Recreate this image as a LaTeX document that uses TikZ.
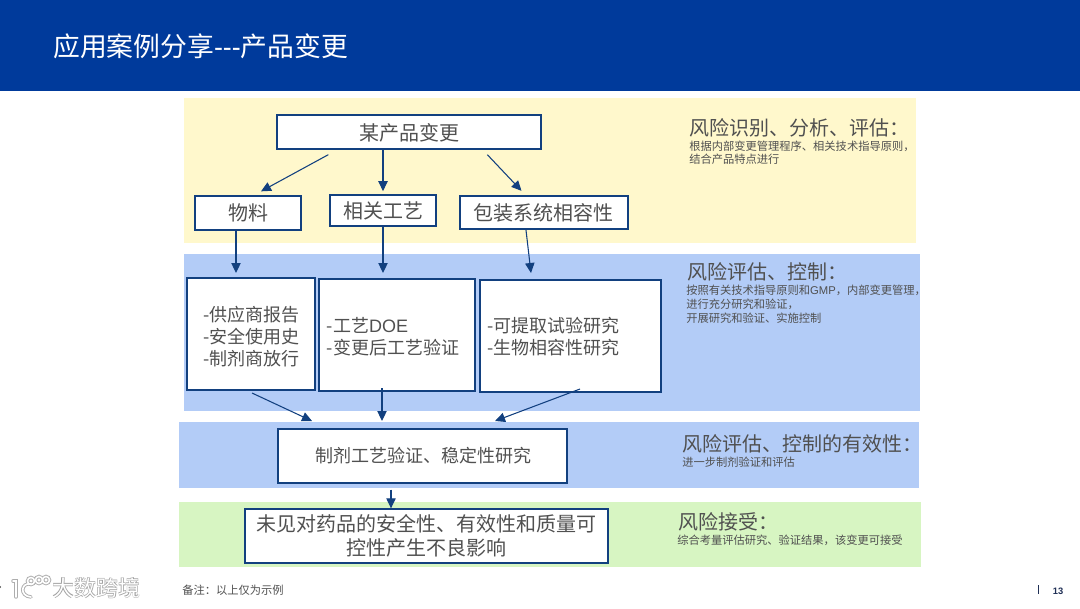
\documentclass[tikz,border=0pt]{standalone}
\usepackage{fontspec}
\setmainfont{Noto Sans CJK SC}
\newfontfamily\lat{Liberation Sans}
\usetikzlibrary{calc,arrows.meta}
\newcommand{\fwcolon}{\symbol{"FF1A}}
\newcommand{\fwcomma}{\symbol{"FF0C}}
\definecolor{hdrblue}{HTML}{003A9B}
\definecolor{bandyellow}{HTML}{FFF8CC}
\definecolor{bandblue}{HTML}{B3CCF7}
\definecolor{bandgreen}{HTML}{D7F5C2}
\definecolor{edgeblue}{HTML}{12407F}
\definecolor{txtgray}{HTML}{505050}
\definecolor{numnavy}{HTML}{1F2F55}
\tikzset{
 flowbox/.style={draw=edgeblue,line width=1.5pt,fill=white,text=txtgray,inner sep=0pt,align=center},
 arr/.style={draw=edgeblue,line width=0.8pt,-{Triangle[length=7.5pt,width=7pt]}},
 headtxt/.style={anchor=west,inner sep=0pt,text=txtgray,font=\fontsize{15pt}{18pt}\selectfont},
 smalltxt/.style={anchor=north west,inner sep=0pt,text=txtgray,align=left,font=\fontsize{8.45pt}{10.2pt}\selectfont},
 boxfont/.style={font=\fontsize{15pt}{20pt}\selectfont},
 listfont/.style={font=\fontsize{13.5pt}{16.5pt}\selectfont},
 wmback/.style={anchor=west,inner sep=0pt,text=black!38,font=\bfseries\fontsize{16.5pt}{18pt}\selectfont},
 wmfront/.style={anchor=west,inner sep=0pt,text=white,font=\fontsize{16.5pt}{18pt}\selectfont},
 logoback/.style={draw=black!32,line width=2.6pt,line cap=round},
 logofront/.style={draw=white,line width=1.2pt,line cap=round},
}
\begin{document}
\begin{tikzpicture}[x=0.75pt,y=-0.75pt]
\useasboundingbox (0,0) rectangle (1080,608);
\fill[white] (0,0) rectangle (1080,608);
\fill[hdrblue] (0,0) rectangle (1080,91);
\node[anchor=west,inner sep=0pt,text=white,font=\fontsize{20.1pt}{22pt}\selectfont] (title) at (53,46) {应用案例分享{\lat ---}产品变更};
\fill[bandyellow] (184,98) rectangle (916,243);
\fill[bandblue] (184,254) rectangle (920,411);
\fill[bandblue] (179,422) rectangle (919,488);
\fill[bandgreen] (179,502) rectangle (921,567);
% boxes
\node[flowbox,boxfont,minimum width=197.5pt,minimum height=25pt,text height=15pt,text depth=2pt] (prod) at (409,132) {某产品变更};
\node[flowbox,boxfont,minimum width=80pt,minimum height=25pt] (mat) at (248,213) {物料};
\node[flowbox,boxfont,minimum width=80pt,minimum height=23pt] (proc) at (383,210.5) {相关工艺};
\node[flowbox,boxfont,minimum width=126pt,minimum height=25pt] (pack) at (543.5,212.5) {包装系统相容性};
\node[flowbox,listfont,minimum width=96pt,minimum height=84pt] (b1) at (250.5,334) {\hspace*{7pt}\parbox{78pt}{\raggedright\vspace*{3.5pt} -供应商报告\\-安全使用史\\-制剂商放行}};
\node[flowbox,listfont,minimum width=117pt,minimum height=84pt] (b2) at (396.5,335) {\hspace*{5.5pt}\parbox{110pt}{\raggedright\vspace*{2.5pt} -工艺{\lat DOE}\\-变更后工艺验证}};
\node[flowbox,listfont,minimum width=136pt,minimum height=84pt] (b3) at (570.5,336) {\hspace*{4pt}\parbox{129pt}{\raggedright\vspace*{1.5pt} -可提取试验研究\\-生物相容性研究}};
\node[flowbox,listfont,minimum width=217pt,minimum height=40pt] (val) at (422.5,456) {\hspace*{1.5pt}制剂工艺验证、稳定性研究};
\node[flowbox,font=\fontsize{15pt}{18pt}\selectfont,minimum width=272.5pt,minimum height=40pt] (res) at (426.5,536) {未见对药品的安全性、有效性和质量可\\控性产生不良影响};
% free arrow ends
\coordinate (g1) at (312,421);
\coordinate (g2) at (382,421);
\coordinate (g3) at (495,421);
% connectors
\draw[arr] ($(prod.south west)+(52,5)$) -- ($(mat.north)+(13,-4)$);
\draw[arr] (prod.south -| proc.north) -- ($(proc.north)+(0,-3)$);
\draw[arr] ($(prod.south west)+(211,5)$) -- ($(pack.north)+(-22,-4)$);
\draw[arr] ($(mat.south)+(-12,0)$) -- ($(b1.north)+(-14.5,-4)$);
\draw[arr] (proc.south) -- ($(b2.north)+(-13.5,-5)$);
\draw[arr] ($(pack.south)+(-17.5,0)$) -- ($(b3.north)+(-39.5,-6)$);
\draw[arr] ($(b1.south)+(1.5,2)$) -- (g1);
\draw[arr] ($(b2.south)+(-14.5,-4)$) -- (g2);
\draw[arr] ($(b3.south)+(9.5,-4)$) -- (g3);
\draw[arr] ($(val.south)+(-31.5,6)$) -- ($(res.north)+(-35.5,0)$);
% right column
\node[headtxt] (h1) at (689,128) {风险识别、分析、评估\fwcolon};
\node[smalltxt] (s1) at (689,140.5) {根据内部变更管理程序、相关技术指导原则\fwcomma\\结合产品特点进行};
\node[headtxt] (h2) at (687,272) {风险评估、控制\fwcolon};
\node[smalltxt] (s2) at (686,285) {按照有关技术指导原则和{\lat GMP}\fwcomma 内部变更管理\fwcomma\\进行充分研究和验证\fwcomma\\开展研究和验证、实施控制};
\node[headtxt] (h3) at (682,444) {风险评估、控制的有效性\fwcolon};
\node[smalltxt] (s3) at (682,457) {进一步制剂验证和评估};
\node[headtxt] (h4) at (678,522) {风险接受\fwcolon};
\node[smalltxt] (s4) at (677,535) {综合考量评估研究、验证结果\fwcomma 该变更可接受};
% footer
\node[anchor=west,inner sep=0pt,text=txtgray,font=\fontsize{8.45pt}{10pt}\selectfont] (note) at (182,590) {备注\fwcolon 以上仅为示例};
\draw[numnavy,line width=0.7pt] (1038,585) -- (1038,594);
\node[anchor=center,inner sep=0pt,text=numnavy,font=\lat\bfseries\fontsize{7pt}{8pt}\selectfont] (page) at (1058,591) {13};
% watermark
\node[wmback] (wmb) at (52,588) {大数跨境};
\node[wmfront] (wmf) at (52,588) {大数跨境};
\fill[black!70] (0,587) circle (1.2);
\foreach \lw/\st in {logoback,logofront}{
 \draw[\lw] (13,581) -- (16,581) -- (16,597);
 \draw[\lw] (31,584) .. controls (21,582) and (19,596) .. (31,597);
 \draw[\lw] (31,581) circle (3.5);
 \draw[\lw] (39,580) circle (3.5);
 \draw[\lw] (46,580) circle (3.5);
}
\end{tikzpicture}
\end{document}
